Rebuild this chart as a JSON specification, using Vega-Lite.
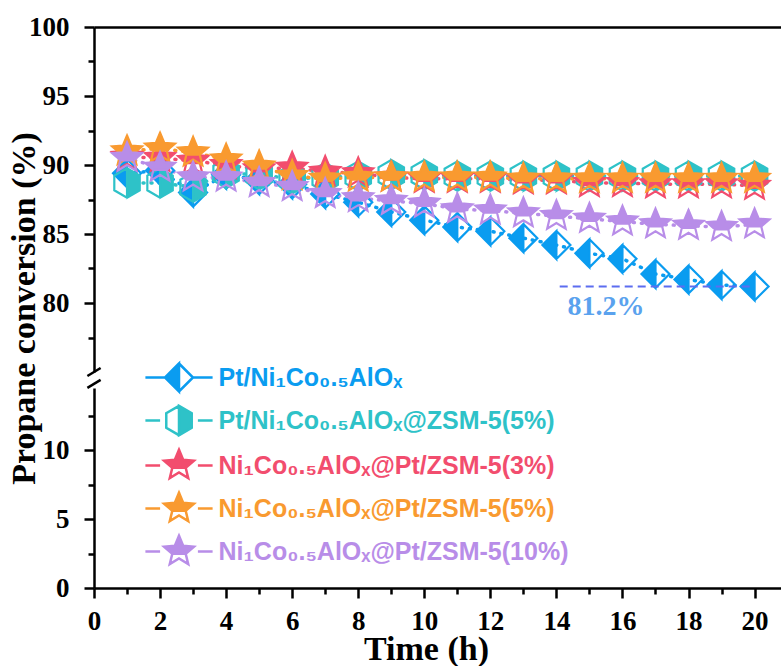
{
  "$schema": "https://vega.github.io/schema/vega-lite/v6.json",
  "background": "white",
  "padding": {"left": 6, "top": 13, "right": 0, "bottom": 0},
  "bounds": "flush",
  "spacing": 16,
  "config": {
    "view": {"stroke": null},
    "axis": {
      "domainColor": "black", "domainWidth": 2.5, "tickColor": "black", "tickWidth": 2.5,
      "labelFont": "Liberation Serif", "labelFontWeight": "bold", "labelFontSize": 27, "labelColor": "black",
      "titleFont": "Liberation Serif", "titleFontWeight": "bold", "titleFontSize": 34, "titleColor": "black",
      "grid": false, "labelOverlap": false, "labelFlush": false
    },
    "legend": {
      "symbolSize": 784, "symbolStrokeWidth": 2.5, "symbolOpacity": 1, "labelFont": "Liberation Sans", "labelFontWeight": "bold",
      "labelFontSize": 25, "labelLimit": 800, "labelOffset": 24, "rowPadding": 3, "padding": 0
    }
  },
  "datasets": {
    "conv": [
      {"time": 1, "conversion": 89.4, "sample": "Pt/Ni₁Co₀.₅AlOₓ"},
      {"time": 2, "conversion": 89.6, "sample": "Pt/Ni₁Co₀.₅AlOₓ"},
      {"time": 3, "conversion": 88.0, "sample": "Pt/Ni₁Co₀.₅AlOₓ"},
      {"time": 4, "conversion": 89.3, "sample": "Pt/Ni₁Co₀.₅AlOₓ"},
      {"time": 5, "conversion": 88.9, "sample": "Pt/Ni₁Co₀.₅AlOₓ"},
      {"time": 6, "conversion": 88.6, "sample": "Pt/Ni₁Co₀.₅AlOₓ"},
      {"time": 7, "conversion": 87.9, "sample": "Pt/Ni₁Co₀.₅AlOₓ"},
      {"time": 8, "conversion": 87.3, "sample": "Pt/Ni₁Co₀.₅AlOₓ"},
      {"time": 9, "conversion": 86.6, "sample": "Pt/Ni₁Co₀.₅AlOₓ"},
      {"time": 10, "conversion": 86.0, "sample": "Pt/Ni₁Co₀.₅AlOₓ"},
      {"time": 11, "conversion": 85.5, "sample": "Pt/Ni₁Co₀.₅AlOₓ"},
      {"time": 12, "conversion": 85.2, "sample": "Pt/Ni₁Co₀.₅AlOₓ"},
      {"time": 13, "conversion": 84.7, "sample": "Pt/Ni₁Co₀.₅AlOₓ"},
      {"time": 14, "conversion": 84.2, "sample": "Pt/Ni₁Co₀.₅AlOₓ"},
      {"time": 15, "conversion": 83.6, "sample": "Pt/Ni₁Co₀.₅AlOₓ"},
      {"time": 16, "conversion": 83.2, "sample": "Pt/Ni₁Co₀.₅AlOₓ"},
      {"time": 17, "conversion": 82.1, "sample": "Pt/Ni₁Co₀.₅AlOₓ"},
      {"time": 18, "conversion": 81.7, "sample": "Pt/Ni₁Co₀.₅AlOₓ"},
      {"time": 19, "conversion": 81.3, "sample": "Pt/Ni₁Co₀.₅AlOₓ"},
      {"time": 20, "conversion": 81.2, "sample": "Pt/Ni₁Co₀.₅AlOₓ"},
      {"time": 1, "conversion": 88.7, "sample": "Pt/Ni₁Co₀.₅AlOₓ@ZSM-5(5%)"},
      {"time": 2, "conversion": 88.7, "sample": "Pt/Ni₁Co₀.₅AlOₓ@ZSM-5(5%)"},
      {"time": 3, "conversion": 88.4, "sample": "Pt/Ni₁Co₀.₅AlOₓ@ZSM-5(5%)"},
      {"time": 4, "conversion": 89.4, "sample": "Pt/Ni₁Co₀.₅AlOₓ@ZSM-5(5%)"},
      {"time": 5, "conversion": 89.3, "sample": "Pt/Ni₁Co₀.₅AlOₓ@ZSM-5(5%)"},
      {"time": 6, "conversion": 89.0, "sample": "Pt/Ni₁Co₀.₅AlOₓ@ZSM-5(5%)"},
      {"time": 7, "conversion": 89.1, "sample": "Pt/Ni₁Co₀.₅AlOₓ@ZSM-5(5%)"},
      {"time": 8, "conversion": 89.2, "sample": "Pt/Ni₁Co₀.₅AlOₓ@ZSM-5(5%)"},
      {"time": 9, "conversion": 89.3, "sample": "Pt/Ni₁Co₀.₅AlOₓ@ZSM-5(5%)"},
      {"time": 10, "conversion": 89.3, "sample": "Pt/Ni₁Co₀.₅AlOₓ@ZSM-5(5%)"},
      {"time": 11, "conversion": 89.2, "sample": "Pt/Ni₁Co₀.₅AlOₓ@ZSM-5(5%)"},
      {"time": 12, "conversion": 89.2, "sample": "Pt/Ni₁Co₀.₅AlOₓ@ZSM-5(5%)"},
      {"time": 13, "conversion": 89.2, "sample": "Pt/Ni₁Co₀.₅AlOₓ@ZSM-5(5%)"},
      {"time": 14, "conversion": 89.2, "sample": "Pt/Ni₁Co₀.₅AlOₓ@ZSM-5(5%)"},
      {"time": 15, "conversion": 89.2, "sample": "Pt/Ni₁Co₀.₅AlOₓ@ZSM-5(5%)"},
      {"time": 16, "conversion": 89.2, "sample": "Pt/Ni₁Co₀.₅AlOₓ@ZSM-5(5%)"},
      {"time": 17, "conversion": 89.2, "sample": "Pt/Ni₁Co₀.₅AlOₓ@ZSM-5(5%)"},
      {"time": 18, "conversion": 89.2, "sample": "Pt/Ni₁Co₀.₅AlOₓ@ZSM-5(5%)"},
      {"time": 19, "conversion": 89.2, "sample": "Pt/Ni₁Co₀.₅AlOₓ@ZSM-5(5%)"},
      {"time": 20, "conversion": 89.2, "sample": "Pt/Ni₁Co₀.₅AlOₓ@ZSM-5(5%)"},
      {"time": 1, "conversion": 90.6, "sample": "Ni₁Co₀.₅AlOₓ@Pt/ZSM-5(3%)"},
      {"time": 2, "conversion": 90.5, "sample": "Ni₁Co₀.₅AlOₓ@Pt/ZSM-5(3%)"},
      {"time": 3, "conversion": 90.3, "sample": "Ni₁Co₀.₅AlOₓ@Pt/ZSM-5(3%)"},
      {"time": 4, "conversion": 90.0, "sample": "Ni₁Co₀.₅AlOₓ@Pt/ZSM-5(3%)"},
      {"time": 5, "conversion": 89.7, "sample": "Ni₁Co₀.₅AlOₓ@Pt/ZSM-5(3%)"},
      {"time": 6, "conversion": 89.8, "sample": "Ni₁Co₀.₅AlOₓ@Pt/ZSM-5(3%)"},
      {"time": 7, "conversion": 89.5, "sample": "Ni₁Co₀.₅AlOₓ@Pt/ZSM-5(3%)"},
      {"time": 8, "conversion": 89.4, "sample": "Ni₁Co₀.₅AlOₓ@Pt/ZSM-5(3%)"},
      {"time": 9, "conversion": 89.1, "sample": "Ni₁Co₀.₅AlOₓ@Pt/ZSM-5(3%)"},
      {"time": 10, "conversion": 89.0, "sample": "Ni₁Co₀.₅AlOₓ@Pt/ZSM-5(3%)"},
      {"time": 11, "conversion": 89.0, "sample": "Ni₁Co₀.₅AlOₓ@Pt/ZSM-5(3%)"},
      {"time": 12, "conversion": 89.0, "sample": "Ni₁Co₀.₅AlOₓ@Pt/ZSM-5(3%)"},
      {"time": 13, "conversion": 88.9, "sample": "Ni₁Co₀.₅AlOₓ@Pt/ZSM-5(3%)"},
      {"time": 14, "conversion": 88.9, "sample": "Ni₁Co₀.₅AlOₓ@Pt/ZSM-5(3%)"},
      {"time": 15, "conversion": 88.7, "sample": "Ni₁Co₀.₅AlOₓ@Pt/ZSM-5(3%)"},
      {"time": 16, "conversion": 88.7, "sample": "Ni₁Co₀.₅AlOₓ@Pt/ZSM-5(3%)"},
      {"time": 17, "conversion": 88.6, "sample": "Ni₁Co₀.₅AlOₓ@Pt/ZSM-5(3%)"},
      {"time": 18, "conversion": 88.6, "sample": "Ni₁Co₀.₅AlOₓ@Pt/ZSM-5(3%)"},
      {"time": 19, "conversion": 88.6, "sample": "Ni₁Co₀.₅AlOₓ@Pt/ZSM-5(3%)"},
      {"time": 20, "conversion": 88.5, "sample": "Ni₁Co₀.₅AlOₓ@Pt/ZSM-5(3%)"},
      {"time": 1, "conversion": 91.0, "sample": "Ni₁Co₀.₅AlOₓ@Pt/ZSM-5(5%)"},
      {"time": 2, "conversion": 91.2, "sample": "Ni₁Co₀.₅AlOₓ@Pt/ZSM-5(5%)"},
      {"time": 3, "conversion": 90.9, "sample": "Ni₁Co₀.₅AlOₓ@Pt/ZSM-5(5%)"},
      {"time": 4, "conversion": 90.4, "sample": "Ni₁Co₀.₅AlOₓ@Pt/ZSM-5(5%)"},
      {"time": 5, "conversion": 89.9, "sample": "Ni₁Co₀.₅AlOₓ@Pt/ZSM-5(5%)"},
      {"time": 6, "conversion": 89.2, "sample": "Ni₁Co₀.₅AlOₓ@Pt/ZSM-5(5%)"},
      {"time": 7, "conversion": 89.0, "sample": "Ni₁Co₀.₅AlOₓ@Pt/ZSM-5(5%)"},
      {"time": 8, "conversion": 89.1, "sample": "Ni₁Co₀.₅AlOₓ@Pt/ZSM-5(5%)"},
      {"time": 9, "conversion": 89.1, "sample": "Ni₁Co₀.₅AlOₓ@Pt/ZSM-5(5%)"},
      {"time": 10, "conversion": 89.1, "sample": "Ni₁Co₀.₅AlOₓ@Pt/ZSM-5(5%)"},
      {"time": 11, "conversion": 89.1, "sample": "Ni₁Co₀.₅AlOₓ@Pt/ZSM-5(5%)"},
      {"time": 12, "conversion": 89.1, "sample": "Ni₁Co₀.₅AlOₓ@Pt/ZSM-5(5%)"},
      {"time": 13, "conversion": 89.0, "sample": "Ni₁Co₀.₅AlOₓ@Pt/ZSM-5(5%)"},
      {"time": 14, "conversion": 89.0, "sample": "Ni₁Co₀.₅AlOₓ@Pt/ZSM-5(5%)"},
      {"time": 15, "conversion": 89.0, "sample": "Ni₁Co₀.₅AlOₓ@Pt/ZSM-5(5%)"},
      {"time": 16, "conversion": 89.0, "sample": "Ni₁Co₀.₅AlOₓ@Pt/ZSM-5(5%)"},
      {"time": 17, "conversion": 89.0, "sample": "Ni₁Co₀.₅AlOₓ@Pt/ZSM-5(5%)"},
      {"time": 18, "conversion": 89.0, "sample": "Ni₁Co₀.₅AlOₓ@Pt/ZSM-5(5%)"},
      {"time": 19, "conversion": 89.0, "sample": "Ni₁Co₀.₅AlOₓ@Pt/ZSM-5(5%)"},
      {"time": 20, "conversion": 89.0, "sample": "Ni₁Co₀.₅AlOₓ@Pt/ZSM-5(5%)"},
      {"time": 1, "conversion": 90.5, "sample": "Ni₁Co₀.₅AlOₓ@Pt/ZSM-5(10%)"},
      {"time": 2, "conversion": 89.8, "sample": "Ni₁Co₀.₅AlOₓ@Pt/ZSM-5(10%)"},
      {"time": 3, "conversion": 89.1, "sample": "Ni₁Co₀.₅AlOₓ@Pt/ZSM-5(10%)"},
      {"time": 4, "conversion": 89.1, "sample": "Ni₁Co₀.₅AlOₓ@Pt/ZSM-5(10%)"},
      {"time": 5, "conversion": 88.7, "sample": "Ni₁Co₀.₅AlOₓ@Pt/ZSM-5(10%)"},
      {"time": 6, "conversion": 88.4, "sample": "Ni₁Co₀.₅AlOₓ@Pt/ZSM-5(10%)"},
      {"time": 7, "conversion": 87.9, "sample": "Ni₁Co₀.₅AlOₓ@Pt/ZSM-5(10%)"},
      {"time": 8, "conversion": 87.6, "sample": "Ni₁Co₀.₅AlOₓ@Pt/ZSM-5(10%)"},
      {"time": 9, "conversion": 87.4, "sample": "Ni₁Co₀.₅AlOₓ@Pt/ZSM-5(10%)"},
      {"time": 10, "conversion": 87.2, "sample": "Ni₁Co₀.₅AlOₓ@Pt/ZSM-5(10%)"},
      {"time": 11, "conversion": 86.8, "sample": "Ni₁Co₀.₅AlOₓ@Pt/ZSM-5(10%)"},
      {"time": 12, "conversion": 86.7, "sample": "Ni₁Co₀.₅AlOₓ@Pt/ZSM-5(10%)"},
      {"time": 13, "conversion": 86.5, "sample": "Ni₁Co₀.₅AlOₓ@Pt/ZSM-5(10%)"},
      {"time": 14, "conversion": 86.3, "sample": "Ni₁Co₀.₅AlOₓ@Pt/ZSM-5(10%)"},
      {"time": 15, "conversion": 86.1, "sample": "Ni₁Co₀.₅AlOₓ@Pt/ZSM-5(10%)"},
      {"time": 16, "conversion": 85.9, "sample": "Ni₁Co₀.₅AlOₓ@Pt/ZSM-5(10%)"},
      {"time": 17, "conversion": 85.7, "sample": "Ni₁Co₀.₅AlOₓ@Pt/ZSM-5(10%)"},
      {"time": 18, "conversion": 85.6, "sample": "Ni₁Co₀.₅AlOₓ@Pt/ZSM-5(10%)"},
      {"time": 19, "conversion": 85.5, "sample": "Ni₁Co₀.₅AlOₓ@Pt/ZSM-5(10%)"},
      {"time": 20, "conversion": 85.7, "sample": "Ni₁Co₀.₅AlOₓ@Pt/ZSM-5(10%)"}
    ],
    "ref": [{"time": 14.1, "end": 20.0, "conversion": 81.2}],
    "reflabel": [{"time": 15.5, "conversion": 79.1, "text": "81.2%"}],
    "breaktop": [{"time": -0.2, "end": 0.2, "conversion": 74.71, "conversion2": 75.29}],
    "breakbottom": [{"time": -0.2, "end": 0.2, "conversion": 14.51, "conversion2": 15.09}]
  },
  "vconcat": [
    {
      "width": 687,
      "height": 345,
      "encoding": {
        "x": {"field": "time", "type": "quantitative", "scale": {"domain": [0, 20.8], "nice": false, "zero": false},
              "axis": {"orient": "top", "labels": false, "ticks": false, "title": null, "domain": true}},
        "y": {"field": "conversion", "type": "quantitative", "scale": {"domain": [75, 100], "nice": false, "zero": false},
              "axis": {"values": [77.5, 80, 82.5, 85, 87.5, 90, 92.5, 95, 97.5, 100],
                       "labelExpr": "datum.value % 5 === 0 ? datum.label : ''",
                       "tickSize": {"condition": {"test": "datum.value % 5 !== 0", "value": 6}, "value": 10},
                       "labelPadding": 15,
                       "title": "Propane conversion (%)", "titleX": -53, "titleY": 281, "titleAngle": 270,
                       "titleBaseline": "bottom", "titleAlign": "center"}}
      },
      "layer": [
        {
          "data": {"name": "conv"},
          "mark": {"type": "line", "strokeWidth": 3.5, "strokeDash": [1, 7], "strokeCap": "round"},
          "encoding": {
            "color": {"field": "sample", "type": "nominal", "sort": null,
                      "scale": {"range": ["#0a9cf0", "#2ec2c8", "#f24d6e", "#f99a30", "#b88de8"]},
                      "legend": null}
          }
        },
        {
          "data": {"name": "conv"},
          "mark": {"type": "point", "size": 784, "strokeWidth": 2.2, "opacity": 1},
          "encoding": {
            "stroke": {"field": "sample", "type": "nominal",
                       "scale": {"domain": ["Pt/Ni₁Co₀.₅AlOₓ", "Pt/Ni₁Co₀.₅AlOₓ@ZSM-5(5%)", "Ni₁Co₀.₅AlOₓ@Pt/ZSM-5(3%)", "Ni₁Co₀.₅AlOₓ@Pt/ZSM-5(5%)", "Ni₁Co₀.₅AlOₓ@Pt/ZSM-5(10%)"],
                                 "range": ["#0a9cf0", "#2ec2c8", "#f24d6e", "#f99a30", "#b88de8"]},
                       "legend": {
                         "orient": "none", "legendX": 69.5, "legendY": 335, "title": null, "direction": "vertical",
                         "symbolType": {"expr": "datum.index === 0 ? 'M0,-1L1,0L0,1L-1,0L0,-1L-1,0L0,1L1,0ZM0,-1L0,1L-1,0ZM-2.4,0L-1,0M1,0L2.4,0' : datum.index === 1 ? 'M0,-1.05L.909,-.525L.909,.525L0,1.05L-.909,.525L-.909,-.525L0,-1.05L-.909,-.525L-.909,.525L0,1.05L.909,.525L.909,-.525ZM0,-1.05L.909,-.525L.909,.525L0,1.05ZM-2.4,0L-1.35,0M1.35,0L2.4,0' : 'M0,-1.12L.297,-.408L1.065,-.346L.479,.156L.659,.906L0,.504L-.659,.906L-.479,.156L-1.065,-.346L-.297,-.408L0,-1.12L-.297,-.408L-1.065,-.346L-.479,.156L-.659,.906L0,.504L.659,.906L.479,.156L1.065,-.346L.297,-.408ZM-.479,.156L-1.065,-.346L-.297,-.408L0,-1.12L.297,-.408L1.065,-.346L.479,.156ZM-2.4,0L-1.35,0M1.35,0L2.4,0'"},
                         "labelColor": {"expr": "datum.index === 0 ? '#0a9cf0' : datum.index === 1 ? '#2ec2c8' : datum.index === 2 ? '#f24d6e' : datum.index === 3 ? '#f99a30' : '#b88de8'"}
                       }},
            "fill": {"field": "sample", "type": "nominal",
                     "scale": {"domain": ["Pt/Ni₁Co₀.₅AlOₓ", "Pt/Ni₁Co₀.₅AlOₓ@ZSM-5(5%)", "Ni₁Co₀.₅AlOₓ@Pt/ZSM-5(3%)", "Ni₁Co₀.₅AlOₓ@Pt/ZSM-5(5%)", "Ni₁Co₀.₅AlOₓ@Pt/ZSM-5(10%)"],
                               "range": ["#0a9cf0", "#2ec2c8", "#f24d6e", "#f99a30", "#b88de8"]},
                     "legend": {
                       "orient": "none", "legendX": 69.5, "legendY": 335, "title": null, "direction": "vertical",
                       "symbolType": {"expr": "datum.index === 0 ? 'M0,-1L1,0L0,1L-1,0L0,-1L-1,0L0,1L1,0ZM0,-1L0,1L-1,0ZM-2.4,0L-1,0M1,0L2.4,0' : datum.index === 1 ? 'M0,-1.05L.909,-.525L.909,.525L0,1.05L-.909,.525L-.909,-.525L0,-1.05L-.909,-.525L-.909,.525L0,1.05L.909,.525L.909,-.525ZM0,-1.05L.909,-.525L.909,.525L0,1.05ZM-2.4,0L-1.35,0M1.35,0L2.4,0' : 'M0,-1.12L.297,-.408L1.065,-.346L.479,.156L.659,.906L0,.504L-.659,.906L-.479,.156L-1.065,-.346L-.297,-.408L0,-1.12L-.297,-.408L-1.065,-.346L-.479,.156L-.659,.906L0,.504L.659,.906L.479,.156L1.065,-.346L.297,-.408ZM-.479,.156L-1.065,-.346L-.297,-.408L0,-1.12L.297,-.408L1.065,-.346L.479,.156ZM-2.4,0L-1.35,0M1.35,0L2.4,0'"},
                       "labelColor": {"expr": "datum.index === 0 ? '#0a9cf0' : datum.index === 1 ? '#2ec2c8' : datum.index === 2 ? '#f24d6e' : datum.index === 3 ? '#f99a30' : '#b88de8'"}
                     }},
            "shape": {"field": "sample", "type": "nominal", "sort": null,
                      "scale": {"range": [
                                  "M0,-1L1,0L0,1L-1,0L0,-1L-1,0L0,1L1,0ZM0,-1L0,1L-1,0Z",
                                  "M0,-1.05L.909,-.525L.909,.525L0,1.05L-.909,.525L-.909,-.525L0,-1.05L-.909,-.525L-.909,.525L0,1.05L.909,.525L.909,-.525ZM0,-1.05L.909,-.525L.909,.525L0,1.05Z",
                                  "M0,-1.12L.297,-.408L1.065,-.346L.479,.156L.659,.906L0,.504L-.659,.906L-.479,.156L-1.065,-.346L-.297,-.408L0,-1.12L-.297,-.408L-1.065,-.346L-.479,.156L-.659,.906L0,.504L.659,.906L.479,.156L1.065,-.346L.297,-.408ZM-.479,.156L-1.065,-.346L-.297,-.408L0,-1.12L.297,-.408L1.065,-.346L.479,.156Z",
                                  "M0,-1.12L.297,-.408L1.065,-.346L.479,.156L.659,.906L0,.504L-.659,.906L-.479,.156L-1.065,-.346L-.297,-.408L0,-1.12L-.297,-.408L-1.065,-.346L-.479,.156L-.659,.906L0,.504L.659,.906L.479,.156L1.065,-.346L.297,-.408ZM-.479,.156L-1.065,-.346L-.297,-.408L0,-1.12L.297,-.408L1.065,-.346L.479,.156Z",
                                  "M0,-1.12L.297,-.408L1.065,-.346L.479,.156L.659,.906L0,.504L-.659,.906L-.479,.156L-1.065,-.346L-.297,-.408L0,-1.12L-.297,-.408L-1.065,-.346L-.479,.156L-.659,.906L0,.504L.659,.906L.479,.156L1.065,-.346L.297,-.408ZM-.479,.156L-1.065,-.346L-.297,-.408L0,-1.12L.297,-.408L1.065,-.346L.479,.156Z"
                                ]},
                      "legend": null}
          }
        },
        {
          "data": {"name": "ref"},
          "mark": {"type": "rule", "color": "#5c6df0", "strokeWidth": 2, "strokeDash": [8, 5]},
          "encoding": {"x2": {"field": "end"}}
        },
        {
          "data": {"name": "reflabel"},
          "mark": {"type": "text", "font": "Liberation Serif", "fontWeight": "bold", "fontSize": 28, "color": "#5aa2ee", "align": "center", "baseline": "alphabetic"},
          "encoding": {"text": {"field": "text"}}
        },
        {
          "data": {"name": "breaktop"},
          "mark": {"type": "rule", "color": "black", "strokeWidth": 2.5},
          "encoding": {"x2": {"field": "end"}, "y2": {"field": "conversion2"}}
        }
      ]
    },
    {
      "width": 687,
      "height": 200,
      "data": {"name": "breakbottom"},
      "mark": {"type": "rule", "color": "black", "strokeWidth": 2.5},
      "encoding": {
        "x": {"field": "time", "type": "quantitative", "scale": {"domain": [0, 20.8], "nice": false, "zero": false},
              "axis": {"values": [0, 1, 2, 3, 4, 5, 6, 7, 8, 9, 10, 11, 12, 13, 14, 15, 16, 17, 18, 19, 20],
                       "labelExpr": "datum.value % 2 === 0 ? datum.label : ''",
                       "tickSize": {"condition": {"test": "datum.value % 2 !== 0", "value": 6}, "value": 10},
                       "labelPadding": 10,
                       "title": "Time (h)", "titleX": 332, "titleY": 71, "titleBaseline": "alphabetic", "titleAlign": "center"}},
        "x2": {"field": "end"},
        "y": {"field": "conversion", "type": "quantitative", "scale": {"domain": [0, 14.5], "nice": false, "zero": false},
              "axis": {"values": [0, 2.5, 5, 7.5, 10, 12.5],
                       "labelExpr": "datum.value % 5 === 0 ? datum.label : ''",
                       "tickSize": {"condition": {"test": "datum.value % 5 !== 0", "value": 6}, "value": 10},
                       "labelPadding": 15, "title": null}},
        "y2": {"field": "conversion2"}
      }
    }
  ]
}
